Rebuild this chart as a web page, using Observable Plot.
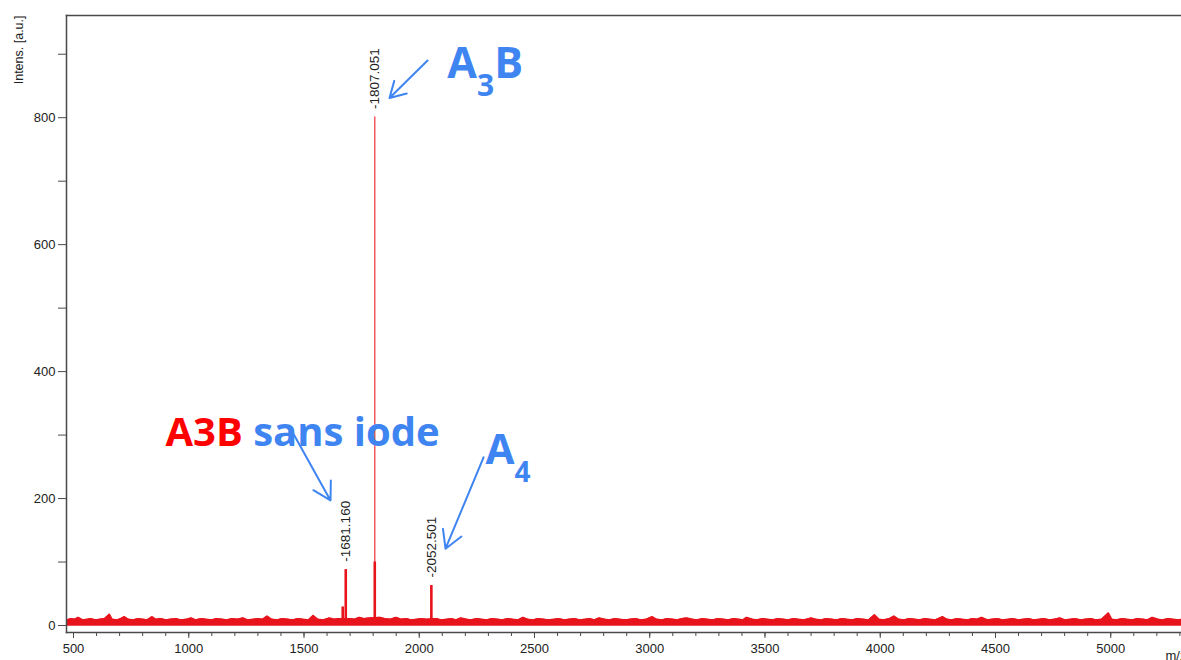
<!DOCTYPE html>
<html><head><meta charset="utf-8">
<script src="https://cdn.jsdelivr.net/npm/d3@7"></script>
<script src="https://cdn.jsdelivr.net/npm/@observablehq/plot@0.6"></script>
<style>
html,body{margin:0;padding:0;background:#fff;overflow:hidden;}
#chart svg{display:block;}
</style></head><body><div id="chart"></div>
<script>
// ---- data ----
// baseline noise of the spectrum: [m/z, intensity]
const noise = [
[472,9],[490,11],[505,10],[520,13],[540,9],[560,10],[575,11],[595,9],[615,10],[635,11],[656,18],[668,10],[690,9],[705,11],[720,14],[738,10],[760,9],[780,11],[800,10],[820,9],[840,14],[858,10],[880,11],[900,9],[920,10],[945,11],[965,9],[990,10],[1010,12],[1030,9],[1055,11],[1075,10],[1100,9],[1120,11],[1145,10],[1165,9],[1190,11],[1210,10],[1235,12],[1255,9],[1280,10],[1300,11],[1320,10],[1340,15],[1360,10],[1385,9],[1405,11],[1430,10],[1450,9],[1475,11],[1495,10],[1520,9],[1540,16],[1560,10],[1585,9],[1610,12],[1630,10],[1650,11],[1700,11],[1720,10],[1740,13],[1760,11],[1785,12],[1830,13],[1850,11],[1875,10],[1900,13],[1920,10],[1945,11],[1965,9],[1990,10],[2010,11],[2030,10],[2075,11],[2095,9],[2120,10],[2140,11],[2160,9],[2180,12],[2205,10],[2225,9],[2250,11],[2270,10],[2295,9],[2315,11],[2340,10],[2360,9],[2385,11],[2405,10],[2430,9],[2450,13],[2470,10],[2495,9],[2515,11],[2540,10],[2560,9],[2585,10],[2605,11],[2630,9],[2650,10],[2675,11],[2695,9],[2720,10],[2740,11],[2760,9],[2780,12],[2805,10],[2825,9],[2850,11],[2870,10],[2895,9],[2915,10],[2940,11],[2960,9],[2985,10],[3010,14],[3030,10],[3055,9],[3075,11],[3100,10],[3120,9],[3140,11],[3160,12],[3185,10],[3205,9],[3230,11],[3250,10],[3275,9],[3295,11],[3320,10],[3340,9],[3365,11],[3385,10],[3405,9],[3420,13],[3445,10],[3465,9],[3490,11],[3510,10],[3535,9],[3555,11],[3580,10],[3600,9],[3625,11],[3645,10],[3670,9],[3700,12],[3720,10],[3745,9],[3765,11],[3790,10],[3810,9],[3835,11],[3855,10],[3880,9],[3900,11],[3925,10],[3950,9],[3975,17],[3995,10],[4015,9],[4040,11],[4060,15],[4080,10],[4105,9],[4125,11],[4150,10],[4170,9],[4195,11],[4215,10],[4240,9],[4270,14],[4290,10],[4310,9],[4335,11],[4355,10],[4380,9],[4400,11],[4420,10],[4440,13],[4465,9],[4485,10],[4510,11],[4530,9],[4555,10],[4575,11],[4600,9],[4620,10],[4645,11],[4665,9],[4690,10],[4710,11],[4735,9],[4755,10],[4780,12],[4800,9],[4825,10],[4845,11],[4870,9],[4890,10],[4915,11],[4935,9],[4960,10],[4990,20],[5005,10],[5025,9],[5050,11],[5070,10],[5095,9],[5115,11],[5140,10],[5160,9],[5180,13],[5205,10],[5225,9],[5250,11],[5270,10],[5295,9],[5310,10]
];
const noiseFloor = -1;

// peaks
const peakMz = [1668, 1681.160, 1807.051, 2052.501];
const peakIntensity = [29, 88, 801, 63];
const peakCoreIntensity = [29, 88, 100, 63];
// labelled peaks
const labelMz = [1681.160, 1807.051, 2052.501];
const labelIntensity = [88, 801, 63];

// annotations
const annText = ["A3B sans iode", "A3B", "A4"];
const annMz = [899, 2122, 2287];
const annIntensity = [283, 863, 255];

// arrows
const arrowFromMz = [2036, 1454, 2279];
const arrowFromInt = [890, 302, 265];
const arrowToMz = [1871, 1615, 2114];
const arrowToInt = [831, 197, 121];

// ticks
const xMajorTicks = [500, 1000, 1500, 2000, 2500, 3000, 3500, 4000, 4500, 5000];
const xMinorTicks = d3.range(500, 5301, 100);
const yTicks = [0, 100, 200, 300, 400, 500, 600, 700, 800, 900];
const yLabelled = [0, 200, 400, 600, 800];

// ---- build ----
const red = "#e8141c";
const blue = "#3f85f2";
const axisColor = "#4a4a4a";
const peaks = peakMz.map((mz, i) => ({mz, intensity: peakIntensity[i], core: peakCoreIntensity[i]}));
const labels = labelMz.map((mz, i) => ({mz, intensity: labelIntensity[i]}));
const anns = annText.map((t, i) => ({t, mz: annMz[i], intensity: annIntensity[i]}));
const arrows = arrowFromMz.map((x1, i) => ({x1, y1: arrowFromInt[i], x2: arrowToMz[i], y2: arrowToInt[i]}));

const chart = Plot.plot({
  width: 1181, height: 660,
  marginLeft: 66, marginRight: 0, marginTop: 15, marginBottom: 28,
  style: {background: "#fff", fontFamily: "'Liberation Sans', Arial, sans-serif", color: "#222", overflow: "hidden"},
  x: {domain: [469.6, 5307]},
  y: {domain: [-11, 961]},
  marks: [
    Plot.areaY(noise, {x: d => d[0], y1: noiseFloor, y2: d => d[1], fill: red}),
    Plot.lineY(noise, {x: d => d[0], y: d => d[1], stroke: red, strokeWidth: 1.2}),
    Plot.ruleX(peaks, {x: "mz", y1: 0, y2: "intensity", stroke: red, strokeOpacity: 0.75, strokeWidth: 1.4}),
    Plot.ruleX(peaks, {x: "mz", y1: 0, y2: "core", stroke: red, strokeWidth: 2.6}),
    Plot.frame({anchor: "left", stroke: axisColor, strokeWidth: 1.5}),
    Plot.frame({anchor: "top", stroke: axisColor, strokeWidth: 1.5}),
    Plot.frame({anchor: "bottom", stroke: axisColor, strokeWidth: 1.5}),
    Plot.axisY({ticks: yTicks, tickSize: 8, tickPadding: 3, fontSize: 13, stroke: axisColor, fill: "#222",
      tickFormat: d => yLabelled.includes(d) ? String(d) : "", label: null}),
    Plot.axisX({ticks: xMinorTicks, tickSize: 4, stroke: axisColor, tickFormat: () => "", label: null}),
    Plot.axisX({ticks: xMajorTicks, tickSize: 6, tickPadding: 5, fontSize: 13, stroke: axisColor, fill: "#222",
      tickFormat: d => String(d), label: null}),
    Plot.text(["Intens. [a.u.]"], {frameAnchor: "top-left", text: d => d, rotate: -90, textAnchor: "end", lineAnchor: "middle", dx: -48, fontSize: 12.5, fill: "#222"}),
    Plot.text(["m/z"], {frameAnchor: "bottom-right", text: d => d, textAnchor: "start", lineAnchor: "middle", dx: -16, dy: 23, fontSize: 13, fill: "#222"}),
    Plot.text(labels, {x: "mz", y: "intensity", text: d => "-" + d3.format(".3f")(d.mz), rotate: -90, textAnchor: "start", lineAnchor: "middle", dy: -8, fontSize: 13.5, fill: "#222"}),
    Plot.arrow(arrows, {x1: "x1", y1: "y1", x2: "x2", y2: "y2", stroke: blue, strokeWidth: 2, headLength: 15, headAngle: 60}),
    Plot.text(anns.filter(d => d.t === "A3B sans iode"), {x: "mz", y: "intensity", text: "t", textAnchor: "start", lineAnchor: "bottom", fontSize: 40, fontWeight: "bold", fontFamily: "'Open Sans', sans-serif", fill: blue}),
    Plot.text(anns.filter(d => d.t === "A3B"), {x: "mz", y: "intensity", text: "t", textAnchor: "start", lineAnchor: "bottom", fontSize: 43, fontWeight: "bold", fontFamily: "'Open Sans', sans-serif", fill: blue}),
    Plot.text(anns.filter(d => d.t === "A4"), {x: "mz", y: "intensity", text: "t", textAnchor: "start", lineAnchor: "bottom", fontSize: 42, fontWeight: "bold", fontFamily: "'Open Sans', sans-serif", fill: blue})
  ]
});

// rich text: colour split and subscripts
const NS = "http://www.w3.org/2000/svg";
function richText(svg, content, parts) {
  for (const t of svg.querySelectorAll("text")) {
    if (t.textContent === content) {
      t.textContent = "";
      t.style.whiteSpace = "pre";
      for (const p of parts) {
        const ts = document.createElementNS(NS, "tspan");
        ts.textContent = p.text;
        if (p.fill) ts.setAttribute("fill", p.fill);
        if (p.size) ts.setAttribute("font-size", p.size);
        if (p.dy) ts.setAttribute("dy", p.dy);
        t.appendChild(ts);
      }
    }
  }
}
richText(chart, "A3B sans iode", [{text: "A3B ", fill: "#ff0000"}, {text: "sans iode", fill: blue}]);
richText(chart, "A3B", [{text: "A"}, {text: "3", size: 30, dy: 18}, {text: "B", dy: -18}]);
richText(chart, "A4", [{text: "A"}, {text: "4", size: 28, dy: 18}]);

document.getElementById("chart").appendChild(chart);
</script></body></html>
